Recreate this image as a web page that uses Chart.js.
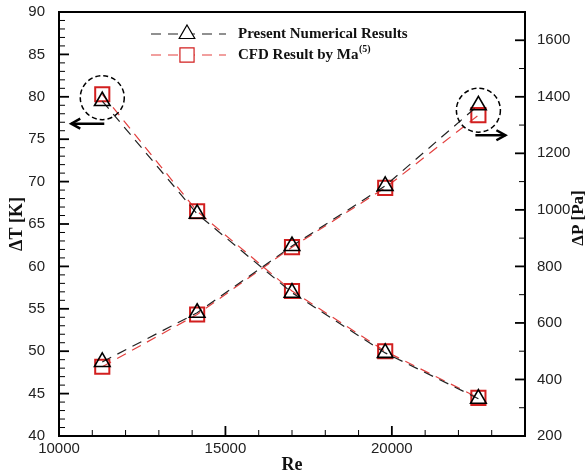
<!DOCTYPE html>
<html><head><meta charset="utf-8">
<script src="https://cdn.jsdelivr.net/npm/chart.js@4.4.0/dist/chart.umd.min.js"></script>
<style>html,body{margin:0;padding:0;background:#fff;}</style>
</head><body>
<canvas id="c" width="587" height="476"></canvas>
<script>
const reynolds = [11300, 14150, 17000, 19800, 22600];
const dTPresent = [79.5, 66.2, 56.9, 49.8, 44.4];
const dTCFD = [80.3, 66.5, 57.1, 50.0, 44.5];
const dPPresent = [462, 636, 872, 1085, 1370];
const dPCFD = [445, 630, 868, 1078, 1335];
const xTicks = [10000, 15000, 20000];
const yLeftTicks = [40, 45, 50, 55, 60, 65, 70, 75, 80, 85, 90];
const yRightTicks = [200, 400, 600, 800, 1000, 1200, 1400, 1600];
const seriesNames = ['Present Numerical Results', 'CFD Result by Ma'];
const axisTitles = { x: 'Re', yL: '\u0394T [K]', yR: '\u0394P [Pa]' };

const pts = (ys) => reynolds.map((x, i) => ({ x: x, y: ys[i] }));
const tickFont = { family: '"Liberation Sans", Arial, sans-serif', size: 15 };
const plain = v => String(v);

const blackStyle = {
  borderColor: '#222', borderWidth: 1.2, borderDash: [10, 7],
  pointStyle: 'triangle', pointRadius: 9, pointBorderColor: '#000',
  pointBackgroundColor: 'rgba(0,0,0,0)', pointBorderWidth: 1.6, tension: 0, fill: false
};
const redStyle = {
  borderColor: '#e3403f', borderWidth: 1.2, borderDash: [10, 7],
  pointStyle: 'rect', pointRadius: 10, pointBorderColor: '#d21f1f',
  pointBackgroundColor: 'rgba(0,0,0,0)', pointBorderWidth: 2, tension: 0, fill: false
};

function drawArrow(ctx, x1, y, x2) {
  ctx.save();
  ctx.setLineDash([]);
  ctx.strokeStyle = '#000';
  ctx.lineWidth = 2.5;
  ctx.beginPath(); ctx.moveTo(x1, y); ctx.lineTo(x2, y); ctx.stroke();
  const d = x2 > x1 ? -1 : 1;
  ctx.beginPath();
  ctx.moveTo(x2 + d * 9, y - 5); ctx.lineTo(x2, y); ctx.lineTo(x2 + d * 9, y + 5);
  ctx.stroke();
  ctx.restore();
}

const decor = {
  id: 'decor',
  afterDraw(chart) {
    const ctx = chart.ctx, a = chart.chartArea;
    const xs = chart.scales.x, yl = chart.scales.yL, yr = chart.scales.yR;
    ctx.save();
    ctx.strokeStyle = '#000';
    function tickX(v, len, w) { const p = xs.getPixelForValue(v); ctx.lineWidth = w; ctx.beginPath(); ctx.moveTo(p, a.bottom); ctx.lineTo(p, a.bottom - len); ctx.stroke(); }
    function tickL(v, len, w) { const p = yl.getPixelForValue(v); ctx.lineWidth = w; ctx.beginPath(); ctx.moveTo(a.left, p); ctx.lineTo(a.left + len, p); ctx.stroke(); }
    function tickR(v, len, w) { const p = yr.getPixelForValue(v); ctx.lineWidth = w; ctx.beginPath(); ctx.moveTo(a.right, p); ctx.lineTo(a.right - len, p); ctx.stroke(); }
    for (let v = xs.min; v <= xs.max; v += 1000) tickX(v, xTicks.includes(v) ? 10 : 6, xTicks.includes(v) ? 1.8 : 1);
    for (let v = yl.min; v <= yl.max; v += 1) tickL(v, yLeftTicks.includes(v) ? 10 : 6, yLeftTicks.includes(v) ? 1.8 : 1);
    for (let v = yr.min; v <= yr.max; v += 100) tickR(v, yRightTicks.includes(v) ? 10 : 6, yRightTicks.includes(v) ? 1.8 : 1);
    ctx.lineWidth = 2;
    ctx.strokeRect(a.left, a.top, a.right - a.left, a.bottom - a.top);

    ctx.fillStyle = '#111';
    ctx.font = 'bold 18px "Liberation Serif", "Times New Roman", serif';
    ctx.textAlign = 'center'; ctx.textBaseline = 'middle';
    ctx.fillText(axisTitles.x, (a.left + a.right) / 2, 465);
    ctx.save(); ctx.translate(17, 224); ctx.rotate(-Math.PI / 2); ctx.fillText(axisTitles.yL, 0, 0); ctx.restore();
    ctx.font = 'bold 17px "Liberation Serif", "Times New Roman", serif';
    ctx.save(); ctx.translate(579, 218); ctx.rotate(-Math.PI / 2); ctx.fillText(axisTitles.yR, 0, 0); ctx.restore();

    const c1x = xs.getPixelForValue(reynolds[0]);
    const c1y = yl.getPixelForValue((dTPresent[0] + dTCFD[0]) / 2);
    const n = reynolds.length - 1;
    const c2x = xs.getPixelForValue(reynolds[n]);
    const c2y = yr.getPixelForValue((dPPresent[n] + dPCFD[n]) / 2);
    ctx.lineWidth = 1.5; ctx.setLineDash([5, 3]);
    ctx.beginPath(); ctx.arc(c1x, c1y, 22, 0, Math.PI * 2); ctx.stroke();
    ctx.beginPath(); ctx.arc(c2x, c2y, 22, 0, Math.PI * 2); ctx.stroke();
    ctx.setLineDash([]);
    drawArrow(ctx, c1x + 2, c1y + 26, c1x - 31);
    drawArrow(ctx, c2x - 3, c2y + 25, c2x + 27);

    const rows = [{ y: 34, st: blackStyle, name: seriesNames[0], sup: '' }, { y: 55, st: redStyle, name: seriesNames[1], sup: '(5)' }];
    rows.forEach(r => {
      ctx.save();
      ctx.strokeStyle = r.st.borderColor; ctx.lineWidth = r.st.borderWidth;
      ctx.setLineDash(r.st.borderDash);
      ctx.beginPath(); ctx.moveTo(151, r.y); ctx.lineTo(226, r.y); ctx.stroke();
      ctx.setLineDash([]);
      ctx.fillStyle = '#fff';
      ctx.strokeStyle = r.st.pointBorderColor;
      Chart.helpers.drawPoint(ctx, { pointStyle: r.st.pointStyle, radius: r.st.pointRadius, borderWidth: r.st.pointBorderWidth, rotation: 0 }, 187, r.y);
      ctx.restore();
      ctx.fillStyle = '#111';
      ctx.textAlign = 'left'; ctx.textBaseline = 'middle';
      ctx.font = 'bold 15px "Liberation Serif", "Times New Roman", serif';
      ctx.fillText(r.name, 238, r.y);
      if (r.sup) {
        const w = ctx.measureText(r.name).width;
        ctx.font = 'bold 10px "Liberation Serif", "Times New Roman", serif';
        ctx.fillText(r.sup, 238 + w + 0.5, r.y - 6);
      }
    });
    ctx.restore();
  }
};

const fitY = w => s => { s.width = w; s.paddingTop = 0; s.paddingBottom = 0; };

new Chart(document.getElementById('c'), {
  type: 'line',
  data: {
    datasets: [
      Object.assign({ label: seriesNames[0] + ' dT', data: pts(dTPresent), yAxisID: 'yL' }, blackStyle),
      Object.assign({ label: seriesNames[0] + ' dP', data: pts(dPPresent), yAxisID: 'yR' }, blackStyle),
      Object.assign({ label: seriesNames[1] + ' dT', data: pts(dTCFD), yAxisID: 'yL' }, redStyle),
      Object.assign({ label: seriesNames[1] + ' dP', data: pts(dPCFD), yAxisID: 'yR' }, redStyle)
    ]
  },
  options: {
    responsive: false, animation: false, devicePixelRatio: 1,
    layout: { padding: { top: 12, left: 0, right: 0, bottom: 0 } },
    plugins: { legend: { display: false }, tooltip: { enabled: false } },
    scales: {
      x: {
        type: 'linear', position: 'bottom', min: 10000, max: 24000,
        grid: { display: false }, border: { display: false },
        afterBuildTicks: s => { s.ticks = xTicks.map(v => ({ value: v })); },
        afterFit: s => { s.height = 40; s.paddingLeft = 0; s.paddingRight = 0; },
        ticks: { font: tickFont, color: '#222', padding: -4, maxRotation: 0, autoSkip: false, callback: plain }
      },
      yL: {
        type: 'linear', position: 'left', min: 40, max: 90,
        grid: { display: false }, border: { display: false },
        afterBuildTicks: s => { s.ticks = yLeftTicks.map(v => ({ value: v })); },
        afterFit: fitY(59),
        ticks: { font: tickFont, color: '#222', padding: 6, autoSkip: false, callback: plain }
      },
      yR: {
        type: 'linear', position: 'right', min: 200, max: 1700,
        grid: { display: false }, border: { display: false },
        afterBuildTicks: s => { s.ticks = yRightTicks.map(v => ({ value: v })); },
        afterFit: fitY(62),
        ticks: { font: tickFont, color: '#222', padding: 4, autoSkip: false, callback: plain }
      }
    }
  },
  plugins: [decor]
});
</script>
</body></html>
